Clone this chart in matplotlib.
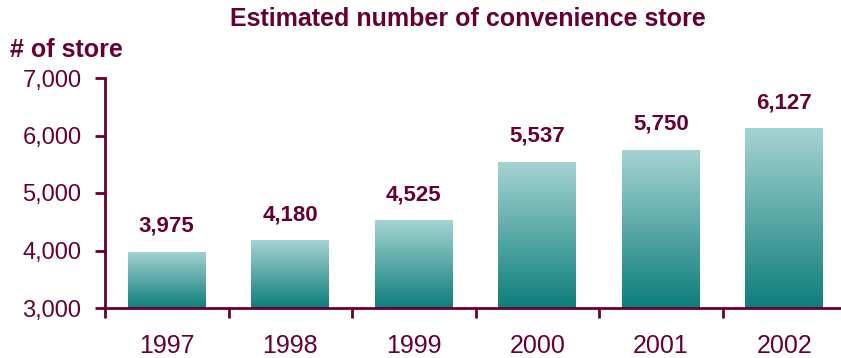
import matplotlib.pyplot as plt
import numpy as np
from matplotlib.colors import LinearSegmentedColormap

plt.rcParams['font.family'] = ['Liberation Sans', 'DejaVu Sans']

years = ['1997', '1998', '1999', '2000', '2001', '2002']
stores = [3975, 4180, 4525, 5537, 5750, 6127]
y_ticks = [3000, 4000, 5000, 6000, 7000]

maroon = '#660033'
teal = LinearSegmentedColormap.from_list('teal', ['#0e7e7b', '#a5d3d2'])

fig = plt.figure(figsize=(8.41, 3.58), dpi=100)
ax = fig.add_axes([105 / 841, 50 / 358, 741 / 841, 230 / 358])

x = np.arange(len(years))
bars = ax.bar(x, stores, width=0.63, color='none', edgecolor='none')

# vertical gradient fill, clipped to each bar
grad = np.linspace(0, 1, 256).reshape(-1, 1)
for bar, val in zip(bars, stores):
    x0 = bar.get_x()
    x1 = x0 + bar.get_width()
    im = ax.imshow(grad, cmap=teal, origin='lower', aspect='auto',
                   extent=(x0, x1, 3000, val), zorder=2)
    im.set_clip_path(bar)
    ax.annotate(f'{val:,}', (bar.get_x() + bar.get_width() / 2, val),
                xytext=(0, 14.5), textcoords='offset points',
                ha='center', va='baseline', fontsize=16, fontweight='bold',
                color=maroon)

ax.set_xlim(-0.5, len(years) - 0.5)
ax.set_ylim(3000, 7000)

ax.set_yticks(y_ticks)
ax.set_yticklabels([f'{v:,}' for v in y_ticks])
ax.set_xticks(np.arange(len(years) + 1) - 0.5)
ax.set_xticklabels([])
ax.set_xticks(x, minor=True)
ax.set_xticklabels(years, minor=True)

ax.tick_params(axis='y', which='major', direction='out', length=7, width=2,
               color=maroon, labelcolor=maroon, labelsize=17, pad=10)
ax.tick_params(axis='x', which='major', direction='out', length=7, width=2,
               color=maroon)
ax.tick_params(axis='x', which='minor', length=0, labelcolor=maroon,
               labelsize=18, pad=19)

for side in ['top', 'right']:
    ax.spines[side].set_visible(False)
for side in ['left', 'bottom']:
    ax.spines[side].set_color(maroon)
    ax.spines[side].set_linewidth(2)

fig.text(468 / 841, 1 - 19 / 358, 'Estimated number of convenience store',
         ha='center', va='center', fontsize=18, fontweight='bold', color=maroon)
fig.text(10 / 841, 1 - 50 / 358, '# of store', ha='left', va='center',
         fontsize=18, fontweight='bold', color=maroon)

fig.savefig('out.png', dpi=100)
